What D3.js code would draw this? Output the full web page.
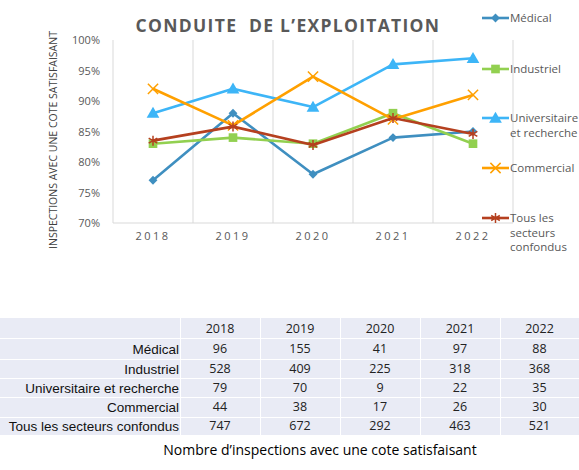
<!DOCTYPE html>
<html><head><meta charset="utf-8">
<script src="https://cdn.jsdelivr.net/npm/d3@7/dist/d3.min.js"></script>
<style>body{margin:0;background:#fff;}svg{display:block;}</style>
</head><body>
<svg id="c" width="579" height="470"></svg>
<script>
const years = ["2018","2019","2020","2021","2022"];
const seriesNames = ["Médical","Industriel","Universitaire et recherche","Commercial","Tous les secteurs confondus"];
const medical = [77, 88, 78, 84, 85];
const industriel = [83, 84, 83, 88, 83];
const universitaire = [88, 92, 89, 96, 97];
const commercial = [92, 86, 94, 87, 91];
const tous = [83.5, 85.8, 82.8, 87.2, 84.6];
const yTicks = [70, 75, 80, 85, 90, 95, 100];
const tableRows = ["Médical","Industriel","Universitaire et recherche","Commercial","Tous les secteurs confondus"];
const countMedical = [96, 155, 41, 97, 88];
const countIndustriel = [528, 409, 225, 318, 368];
const countUniversitaire = [79, 70, 9, 22, 35];
const countCommercial = [44, 38, 17, 26, 30];
const countTous = [747, 672, 292, 463, 521];

const colors = ["#3F8FC0","#92D050","#3DB5F7","#FFA000","#B5401F"];
const markers = ["diamond","square","triangle","x","star"];
const legendLines = [["Médical"],["Industriel"],["Universitaire","et recherche"],["Commercial"],["Tous les","secteurs","confondus"]];
const allSeries = [medical, industriel, universitaire, commercial, tous];
const counts = [countMedical, countIndustriel, countUniversitaire, countCommercial, countTous];

const svg = d3.select("#c");
const x = d3.scaleBand().domain(years).range([113, 513]);
const y = d3.scaleLinear().domain([70, 100]).range([223, 40]);
const grey = "#595959";

// gridlines (vertical at band boundaries)
const bounds = years.map(d => x(d)).concat([x.range()[1]]);
svg.append("g").selectAll("line").data(bounds).join("line")
  .attr("x1", d => d).attr("x2", d => d).attr("y1", y(100)).attr("y2", y(70))
  .attr("stroke", "#d9d9d9").attr("stroke-width", 1);

// x axis baseline
svg.append("line").attr("x1", 113).attr("x2", 513).attr("y1", y(70)).attr("y2", y(70))
  .attr("stroke", "#d9d9d9").attr("stroke-width", 1);

// y axis labels
const yAxis = d3.axisLeft(y).tickValues(yTicks).tickFormat(d => d + "%").tickSize(0).tickPadding(13);
const gy = svg.append("g").attr("transform", "translate(113,0)").call(yAxis);
gy.select(".domain").remove();
gy.selectAll("text").attr("fill", grey).style("font-family", "Open Sans, sans-serif").style("font-size", "11px");

// x axis labels
const xAxis = d3.axisBottom(x).tickSize(0).tickPadding(9);
const gx = svg.append("g").attr("transform", "translate(0," + y(70) + ")").call(xAxis);
gx.select(".domain").remove();
gx.selectAll("text").attr("fill", grey).style("font-family", "Open Sans, sans-serif").style("font-size", "11px").style("letter-spacing", "2.5px");

// title
svg.append("text").attr("x", 288).attr("y", 32).attr("text-anchor", "middle")
  .attr("fill", grey).style("font-family", "Open Sans, sans-serif").style("font-weight", "bold")
  .style("font-size", "17.5px").style("letter-spacing", "1.3px").attr("xml:space","preserve")
  .text("CONDUITE  DE L’EXPLOITATION");

// y title
svg.append("text").attr("transform", "translate(57,140) rotate(-90)").attr("text-anchor", "middle")
  .attr("fill", "#404040").style("font-family", "Open Sans, sans-serif").style("font-size", "10.5px")
  .text("INSPECTIONS AVEC UNE COTE SATISFAISANT");

function drawMarker(g, type, cx, cy, color) {
  if (type === "diamond") {
    g.append("path").attr("d", d3.symbol().type(d3.symbolDiamond2).size(50)()).attr("transform", `translate(${cx},${cy})`).attr("fill", color);
  } else if (type === "square") {
    g.append("path").attr("d", d3.symbol().type(d3.symbolSquare).size(75)()).attr("transform", `translate(${cx},${cy})`).attr("fill", color);
  } else if (type === "triangle") {
    g.append("path").attr("d", d3.symbol().type(d3.symbolTriangle).size(70)()).attr("transform", `translate(${cx},${cy+1})`).attr("fill", color);
  } else if (type === "x") {
    g.append("path").attr("d", d3.symbol().type(d3.symbolX).size(70)()).attr("transform", `translate(${cx},${cy})`).attr("stroke", color).attr("stroke-width", 1.5).attr("fill", "none");
  } else if (type === "star") {
    g.append("path").attr("d", d3.symbol().type(d3.symbolAsterisk).size(70)()).attr("transform", `translate(${cx},${cy})`).attr("stroke", color).attr("stroke-width", 1.5).attr("fill", "none");
  }
}

const line = d3.line().x((d, i) => x(years[i]) + x.bandwidth() / 2).y(d => y(d));
allSeries.forEach((vals, si) => {
  const g = svg.append("g");
  g.append("path").datum(vals).attr("d", line).attr("fill", "none")
    .attr("stroke", colors[si]).attr("stroke-width", 2.6).attr("stroke-linejoin", "round");
  vals.forEach((v, i) => drawMarker(g, markers[si], x(years[i]) + x.bandwidth() / 2, y(v), colors[si]));
});

// legend
const legY = [18, 69, 118, 168, 218];
seriesNames.forEach((name, si) => {
  const g = svg.append("g");
  g.append("line").attr("x1", 482).attr("x2", 509).attr("y1", legY[si]).attr("y2", legY[si])
    .attr("stroke", colors[si]).attr("stroke-width", 2.6);
  drawMarker(g, markers[si], 495.5, legY[si], colors[si]);
  const t = g.append("text").attr("x", 510).attr("y", legY[si] + 4).attr("fill", grey)
    .style("font-family", "Open Sans, sans-serif").style("font-size", "11.5px");
  legendLines[si].forEach((l, k) => t.append("tspan").attr("x", 510).attr("dy", k === 0 ? 0 : 14.5).text(l));
});

// table
const colX = [0, 180, 260, 340, 420, 500, 579];
const rowY = [318, 338, 359, 378, 397, 417, 435];
const tg = svg.append("g");
for (let r = 0; r < 6; r++) {
  for (let c = 0; c < 6; c++) {
    tg.append("rect").attr("x", colX[c] + (c > 0 ? 1 : 0)).attr("y", rowY[r] + (r > 0 ? 1 : 0))
      .attr("width", colX[c + 1] - colX[c] - (c > 0 ? 1 : 0)).attr("height", rowY[r + 1] - rowY[r] - (r > 0 ? 1 : 0))
      .attr("fill", "#E9EBF5");
  }
}
const numFont = "Open Sans, sans-serif";
years.forEach((yr, c) => {
  tg.append("text").attr("x", (colX[c + 1] + colX[c + 2]) / 2).attr("y", (rowY[0] + rowY[1]) / 2 + 5)
    .attr("text-anchor", "middle").attr("fill", "#222").style("font-family", numFont).style("font-size", "12.5px").text(yr);
});
tableRows.forEach((name, r) => {
  const cy = (rowY[r + 1] + rowY[r + 2]) / 2 + 5;
  tg.append("text").attr("x", 179).attr("y", cy).attr("text-anchor", "end").attr("fill", "#111")
    .style("font-family", "Liberation Sans, Arial, sans-serif").style("font-size", "13.5px").text(name);
  counts[r].forEach((v, c) => {
    tg.append("text").attr("x", (colX[c + 1] + colX[c + 2]) / 2).attr("y", cy - 1).attr("text-anchor", "middle")
      .attr("fill", "#222").style("font-family", numFont).style("font-size", "12.5px").text(v);
  });
});

svg.append("text").attr("x", 320).attr("y", 455).attr("text-anchor", "middle").attr("fill", "#000")
  .style("font-family", "Open Sans, sans-serif").style("font-size", "14px")
  .text("Nombre d’inspections avec une cote satisfaisant");
</script>
</body></html>
